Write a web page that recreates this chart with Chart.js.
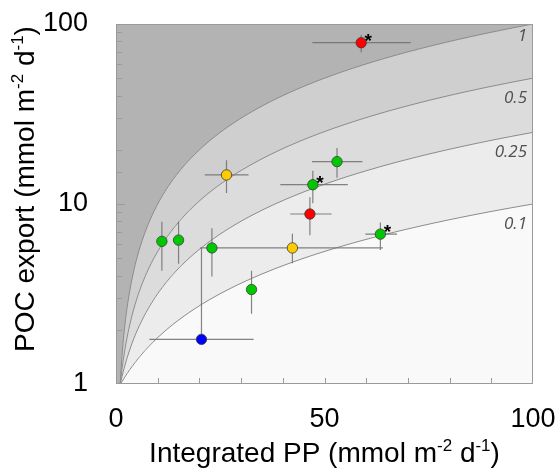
<!DOCTYPE html>
<html>
<head>
<meta charset="utf-8">
<script src="https://cdn.jsdelivr.net/npm/chart.js@4.4.1/dist/chart.umd.min.js"></script>
<style>
  body { margin: 0; background: #fff; }
  #wrap { width: 560px; height: 468px; position: relative; }
</style>
</head>
<body>
<div id="wrap"><canvas id="chart"></canvas></div>
<script>
// --- DATA ---
const pp      = [58.8, 26.5, 53.0, 47.2, 46.5, 63.4, 11.0, 15.0, 23.0, 42.3, 32.5, 20.5];
const poc     = [78.7, 14.5, 17.2, 12.8, 8.8, 6.8, 6.2, 6.3, 5.7, 5.7, 3.35, 1.77];
const ppLow   = [47.1, 21.3, 47.0, 39.4, 41.8, 59.8, null, null, 20.2, 20.2, null, 8.0];
const ppHigh  = [70.7, 31.8, 59.1, 55.6, 51.7, 67.4, null, null, 26.2, 64.0, null, 33.0];
const pocLow  = [69.6, 11.5, 14.0, 10.1, 6.7, 5.55, 4.26, 4.66, 3.95, 4.68, 2.46, null];
const pocHigh = [87.0, 17.5, 20.5, 15.3, 10.9, 7.9, 7.97, 7.97, 7.33, 6.84, 4.26, 5.67];
const group   = [0, 1, 2, 2, 0, 2, 2, 2, 2, 1, 2, 3];
const starred = [true, false, false, true, false, true, false, false, false, false, false, false];
const eRatios = [1, 0.5, 0.25, 0.1];
const xTickLabels = [0, 50, 100];
const yTickLabels = [1, 10, 100];

// --- STYLE ---
const groupColors = ['#ff0000', '#ffcc00', '#00c800', '#0000ff'];
const bandColors = ['#f9f9f9', '#ececec', '#dcdcdc', '#cfcfcf', '#b3b3b3'];
const FONT = "Arial, 'Liberation Sans', sans-serif";

// e-ratio guide: straight line through (0, 1-e) and (xmax, e*xmax)
function isoline(chart, e) {
  const { chartArea: a, scales: { x, y } } = chart;
  const xmax = x.max;
  const pts = [];
  for (let px = a.left; px <= a.right + 0.5; px += 1) {
    const xv = x.getValueForPixel(px);
    const yv = Math.max((1 - e) + (e * xmax - (1 - e)) * xv / xmax, 0.001);
    pts.push([px, y.getPixelForValue(yv)]);
  }
  return pts;
}

const backdrop = {
  id: 'backdrop',
  beforeDraw(chart) {
    const { ctx, chartArea: a } = chart;
    const sorted = eRatios.slice().sort((p, q) => p - q);
    ctx.save();
    ctx.beginPath();
    ctx.rect(a.left, a.top, a.right - a.left, a.bottom - a.top);
    ctx.clip();
    ctx.fillStyle = bandColors[0];
    ctx.fillRect(a.left, a.top, a.right - a.left, a.bottom - a.top);
    const lines = sorted.map(e => isoline(chart, e));
    lines.forEach((pts, i) => {
      ctx.beginPath();
      pts.forEach(([px, py], k) => k ? ctx.lineTo(px, py) : ctx.moveTo(px, py));
      ctx.lineTo(a.right, a.top);
      ctx.lineTo(a.left, a.top);
      ctx.closePath();
      ctx.fillStyle = bandColors[i + 1];
      ctx.fill();
    });
    ctx.strokeStyle = '#8c8c8c';
    ctx.lineWidth = 1;
    lines.forEach(pts => {
      ctx.beginPath();
      pts.forEach(([px, py], k) => k ? ctx.lineTo(px, py) : ctx.moveTo(px, py));
      ctx.stroke();
    });
    ctx.restore();

    // ratio labels at the right edge, just under each line
    ctx.save();
    ctx.font = "italic 17px 'Open Sans', sans-serif";
    ctx.fillStyle = '#505050';
    ctx.textAlign = 'right';
    ctx.textBaseline = 'middle';
    sorted.forEach((e, i) => {
      const pts = lines[i];
      const yEdge = pts[pts.length - 1][1];
      const ly = yEdge - a.top < 3 ? a.top + 12 : yEdge + 20;
      ctx.fillText(String(e), a.right - 6, ly);
    });
    ctx.restore();
  }
};

const errorBars = {
  id: 'errorBars',
  beforeDatasetsDraw(chart) {
    const { ctx, chartArea: a, scales: { x, y } } = chart;
    ctx.save();
    // frame and inward ticks
    ctx.strokeStyle = '#9a9a9a';
    ctx.lineWidth = 1;
    ctx.strokeRect(a.left + 0.5, a.top + 0.5, a.right - a.left - 1, a.bottom - a.top - 1);
    ctx.beginPath();
    y.ticks.forEach(t => {
      if (t.value <= y.min || t.value >= y.max) return;
      const py = Math.round(y.getPixelForValue(t.value)) + 0.5;
      const len = yTickLabels.some(v => Math.abs(v - t.value) < 1e-6) ? 9 : 6;
      ctx.moveTo(a.left, py);
      ctx.lineTo(a.left + len, py);
    });
    x.ticks.forEach(t => {
      if (t.value <= x.min || t.value >= x.max) return;
      const px = Math.round(x.getPixelForValue(t.value)) + 0.5;
      ctx.moveTo(px, a.bottom);
      ctx.lineTo(px, a.bottom - 6);
    });
    ctx.stroke();

    // error bars
    ctx.strokeStyle = 'rgba(110,110,110,0.85)';
    ctx.lineWidth = 1.2;
    ctx.beginPath();
    pp.forEach((v, i) => {
      const px = x.getPixelForValue(v);
      const py = y.getPixelForValue(poc[i]);
      if (ppLow[i] !== null) {
        ctx.moveTo(x.getPixelForValue(ppLow[i]), py);
        ctx.lineTo(x.getPixelForValue(ppHigh[i]), py);
      }
      const top = pocHigh[i] !== null ? y.getPixelForValue(pocHigh[i]) : py;
      const bot = pocLow[i] !== null ? y.getPixelForValue(pocLow[i]) : py;
      ctx.moveTo(px, top);
      ctx.lineTo(px, bot);
    });
    ctx.stroke();
    ctx.restore();
  },
  afterDatasetsDraw(chart) {
    const { ctx, scales: { x, y } } = chart;
    ctx.save();
    ctx.font = 'bold 19px ' + FONT;
    ctx.fillStyle = '#000';
    ctx.textAlign = 'center';
    ctx.textBaseline = 'alphabetic';
    pp.forEach((v, i) => {
      if (!starred[i]) return;
      ctx.fillText('*', x.getPixelForValue(v) + 7, y.getPixelForValue(poc[i]) + 4);
    });
    ctx.restore();
  }
};

// axis titles with superscripts
function drawRich(ctx, parts, cx, base, size) {
  const sup = Math.round(size * 0.62);
  const widths = parts.map(p => {
    ctx.font = (p.sup ? sup : size) + 'px ' + FONT;
    return ctx.measureText(p.t).width;
  });
  let px = cx - widths.reduce((s, w) => s + w, 0) / 2;
  parts.forEach((p, i) => {
    ctx.font = (p.sup ? sup : size) + 'px ' + FONT;
    ctx.fillText(p.t, px, p.sup ? base - size * 0.38 : base);
    px += widths[i];
  });
}

const titles = {
  id: 'titles',
  afterDraw(chart) {
    const { ctx, chartArea: a } = chart;
    ctx.save();
    ctx.fillStyle = '#000';
    ctx.textAlign = 'left';
    ctx.textBaseline = 'alphabetic';
    drawRich(ctx, [
      { t: 'Integrated PP (mmol m' }, { t: '-2', sup: true }, { t: ' d' }, { t: '-1', sup: true }, { t: ')' }
    ], (a.left + a.right) / 2, 462, 28);
    ctx.translate(34, 189);
    ctx.rotate(-Math.PI / 2);
    drawRich(ctx, [
      { t: 'POC export (mmol m' }, { t: '-2', sup: true }, { t: ' d' }, { t: '-1', sup: true }, { t: ')' }
    ], 0, 0, 28);
    ctx.restore();
  }
};

new Chart(document.getElementById('chart'), {
  type: 'scatter',
  data: {
    datasets: [{
      data: pp.map((v, i) => ({ x: v, y: poc[i] })),
      backgroundColor: group.map(g => groupColors[g]),
      borderColor: '#3a3a3a',
      borderWidth: 0.8,
      pointRadius: 5.2,
      pointHoverRadius: 5.2
    }]
  },
  options: {
    responsive: true,
    maintainAspectRatio: false,
    animation: false,
    layout: { padding: { top: 24, right: 27, left: 0, bottom: 0 } },
    plugins: { legend: { display: false }, tooltip: { enabled: false } },
    scales: {
      x: {
        type: 'linear', min: 0, max: 100,
        grid: { display: true, drawOnChartArea: false, drawTicks: true, tickLength: 19, tickColor: 'rgba(0,0,0,0)' },
        border: { display: false },
        ticks: {
          stepSize: 10, autoSkip: false, maxRotation: 0, padding: 0, color: '#000',
          font: { family: FONT, size: 27 },
          callback: v => xTickLabels.includes(v) ? String(v) : ''
        },
        afterFit: s => { s.height = 84; }
      },
      y: {
        type: 'logarithmic', min: 1, max: 100,
        grid: { display: true, drawOnChartArea: false, drawTicks: true, tickLength: 28, tickColor: 'rgba(0,0,0,0)' },
        border: { display: false },
        ticks: {
          autoSkip: false, padding: 0, color: '#000',
          font: { family: FONT, size: 27 },
          callback: v => yTickLabels.some(t => Math.abs(t - v) < 1e-6) ? String(Math.round(v)) : ''
        },
        afterFit: s => { s.width = 116; }
      }
    }
  },
  plugins: [backdrop, errorBars, titles]
});
</script>
</body>
</html>
